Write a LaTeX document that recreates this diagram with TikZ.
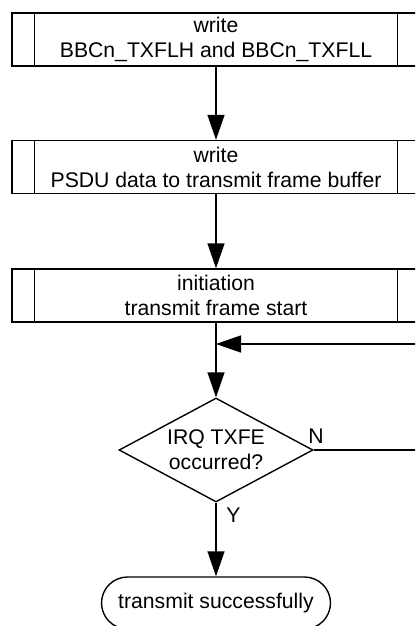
\documentclass[tikz,border=0pt]{standalone}
\usepackage{fontspec}
\setmainfont{Liberation Sans}
\usetikzlibrary{arrows.meta,shapes.geometric}
\begin{document}
\begin{tikzpicture}[x=1pt,y=1pt,
  line width=1.4pt,
  every node/.style={font=\fontsize{21.2}{25}\selectfont},
  proc/.style={draw, minimum width=408pt, minimum height=53pt, align=center, inner sep=0pt},
  arr/.style={-{Triangle[length=25pt,width=17pt]}},
  decision/.style={draw, diamond, aspect=1.87, minimum width=194pt, minimum height=104pt, inner sep=0pt, align=center},
  term/.style={draw, rounded corners=26pt, minimum width=229pt, minimum height=52pt, inner sep=0pt}
]
\clip (0,0) rectangle (415,-626);
\node[proc] (b1) at (216,-39.5) {write\\BBCn\_TXFLH and BBCn\_TXFLL};
\node[proc] (b2) at (216,-167) {write\\PSDU data to transmit frame buffer};
\node[proc] (b3) at (216,-295.5) {initiation\\transmit frame start};
\foreach \b in {b1,b2,b3}{
  \draw ([xshift=23pt]\b.north west) -- ([xshift=23pt]\b.south west);
  \draw ([xshift=-23pt]\b.north east) -- ([xshift=-23pt]\b.south east);
}
\node[decision] (d) at (216,-450) {IRQ TXFE\\occurred?};
\node[term] (t) at (216,-603) {transmit successfully};
\coordinate (m) at (216,-344);
\coordinate (r) at (430,-450);
\draw[arr] (b1) -- (b2);
\draw[arr] (b2) -- (b3);
\draw[arr] (b3) -- (d);
\draw[arr] (d.east) -- (r) |- (m);
\draw[arr] (d) -- (t);
\node (n) at (316,-436) {N};
\node (y) at (233.5,-515) {Y};
\end{tikzpicture}
\end{document}
